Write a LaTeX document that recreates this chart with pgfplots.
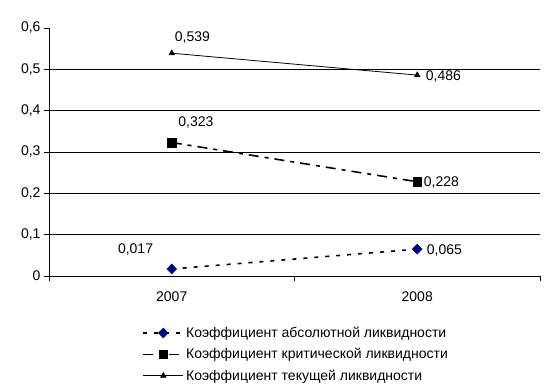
\documentclass[border=0pt]{standalone}
\usepackage{pgfplots}
\pgfplotsset{compat=1.18}
\usepackage{fontspec}
\setmainfont{Liberation Sans}
\definecolor{navy}{RGB}{0,0,128}
\begin{document}
\begin{tikzpicture}
\begin{axis}[
  name=ax,
  scale only axis, width=491pt, height=248pt,
  xmin=-0.5, xmax=1.5, ymin=0, ymax=0.6,
  axis lines*=left,
  axis line style={black, line width=0.8pt},
  tick align=outside,
  tick style={black, line width=0.8pt},
  major tick length=5pt,
  xtick={0,1}, xticklabels={2007,2008},
  major x tick style={draw=none},
  extra x ticks={-0.5,0.5,1.5}, extra x tick labels={},
  extra x tick style={major x tick style={draw=black, line width=0.8pt}},
  ytick={0,0.1,0.2,0.3,0.4,0.5,0.6},
  extra y ticks={0.1,0.2,0.3,0.4,0.5}, extra y tick labels={},
  extra y tick style={ymajorgrids=true, major grid style={black, line width=0.8pt}, major tick length=0pt},
  yticklabel style={/pgf/number format/.cd, fixed, precision=1, use comma},
  /pgf/number format/assume math mode=true,
  ticklabel style={font=\fontsize{14}{16}\selectfont},
  xticklabel style={yshift=-7pt},
  clip=false,
  legend style={at={(0.19,-0.197)}, anchor=north west, draw=none, fill=none, inner sep=0pt,
    font=\fontsize{14}{16}\selectfont, row sep=5.5pt, cells={anchor=west}},
  legend image code/.code={\draw[mark repeat=2,mark phase=2,#1] plot coordinates {(0pt,0pt) (20pt,0pt) (40pt,0pt)};},
]
\addplot[black, line width=1.6pt, dash pattern=on 4pt off 7pt, mark=diamond*, mark size=5pt,
  mark options={solid, fill=navy, draw=navy, line width=0.4pt, xscale=1.3}]
  coordinates {(0,0.017) (1,0.065)};
\addlegendentry{Коэффициент абсолютной ликвидности}
\addplot[black, line width=1.6pt, dash pattern=on 10pt off 6pt on 4pt off 6pt, mark=square*, mark size=4.3pt,
  mark options={solid, fill=black, line width=0.4pt}]
  coordinates {(0,0.323) (1,0.228)};
\addlegendentry{Коэффициент критической ликвидности}
\addplot[black, line width=0.8pt, mark=triangle*, mark size=3pt,
  mark options={solid, fill=black}]
  coordinates {(0,0.539) (1,0.486)};
\addlegendentry{Коэффициент текущей ликвидности}
\begin{scope}[every node/.style={inner sep=0pt, font=\fontsize{14}{16}\selectfont}]
\node[anchor=base west, xshift=3pt, yshift=12pt] at (axis cs:0,0.539) {0,539};
\node[anchor=base west, xshift=8.5pt, yshift=-5pt] at (axis cs:1,0.486) {0,486};
\node[anchor=base west, xshift=6.5pt, yshift=16pt] at (axis cs:0,0.323) {0,323};
\node[anchor=base west, xshift=6.5pt, yshift=-5pt] at (axis cs:1,0.228) {0,228};
\node[anchor=base east, xshift=-18.5pt, yshift=15pt] at (axis cs:0,0.017) {0,017};
\node[anchor=base west, xshift=9.5pt, yshift=-5pt] at (axis cs:1,0.065) {0,065};
\end{scope}
\end{axis}
\pgfresetboundingbox
\path ([xshift=-49pt,yshift=-116pt]ax.south west) rectangle ([xshift=12pt,yshift=28pt]ax.north east);
\end{tikzpicture}
\end{document}
